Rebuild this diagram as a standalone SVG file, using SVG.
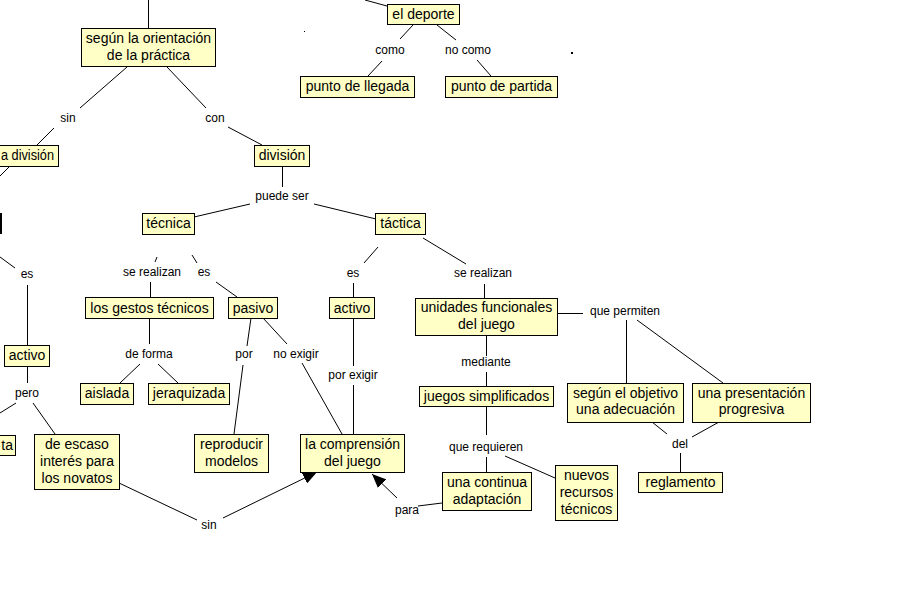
<svg xmlns="http://www.w3.org/2000/svg" width="919" height="613" viewBox="0 0 919 613">
<defs>
<style>
.b{fill:#ffffc6;stroke:#000;stroke-width:1}
.t{font-family:"Liberation Sans",Arial,sans-serif;font-size:14px;fill:#000;text-anchor:middle}
.l{font-family:"Liberation Sans",Arial,sans-serif;font-size:12px;fill:#000;text-anchor:middle}
.c line{stroke:#000;stroke-width:1;fill:none}
</style>
<marker id="ah" markerUnits="userSpaceOnUse" markerWidth="14" markerHeight="12" refX="14" refY="6" orient="auto">
<path d="M0,0 L14,6 L0,12 z" fill="#000"/>
</marker>
</defs>
<rect width="919" height="613" fill="#fff"/>
<g id="connectors" class="c">
<line x1="148.5" y1="0" x2="148.5" y2="28"/>
<line x1="365" y1="0" x2="387" y2="6"/>
<line x1="413" y1="25" x2="400" y2="39"/>
<line x1="382" y1="61" x2="368" y2="76"/>
<line x1="437" y1="25" x2="456" y2="40"/>
<line x1="477" y1="60" x2="491" y2="76"/>
<line x1="127" y1="67" x2="80" y2="108"/>
<line x1="54" y1="128" x2="37" y2="145"/>
<line x1="167" y1="67" x2="206" y2="108"/>
<line x1="228" y1="127" x2="262" y2="145"/>
<line x1="9" y1="167" x2="0" y2="176"/>
<line x1="0" y1="257" x2="15" y2="268"/>
<line x1="27.5" y1="285" x2="27.5" y2="345"/>
<line x1="27.5" y1="366" x2="27.5" y2="383"/>
<line x1="16" y1="403" x2="0" y2="413"/>
<line x1="33" y1="403" x2="55" y2="434"/>
<line x1="119" y1="483" x2="197" y2="520"/>
<line x1="223" y1="518" x2="317" y2="472" marker-end="url(#ah)"/>
<line x1="282.5" y1="166" x2="282.5" y2="187"/>
<line x1="250" y1="204" x2="194" y2="217"/>
<line x1="314" y1="204" x2="376" y2="219"/>
<line x1="157" y1="257" x2="155" y2="262"/>
<line x1="192" y1="255" x2="197" y2="263"/>
<line x1="150.5" y1="282" x2="150.5" y2="297"/>
<line x1="216" y1="282" x2="237" y2="297"/>
<line x1="149.5" y1="319" x2="149.5" y2="344"/>
<line x1="140" y1="364" x2="120" y2="383"/>
<line x1="158" y1="364" x2="178" y2="383"/>
<line x1="251" y1="318" x2="247" y2="346"/>
<line x1="243" y1="365" x2="234" y2="434"/>
<line x1="263" y1="318" x2="287" y2="344"/>
<line x1="302" y1="363" x2="342" y2="434"/>
<line x1="378" y1="247" x2="364" y2="263"/>
<line x1="353.5" y1="283" x2="353.5" y2="297"/>
<line x1="353.5" y1="318" x2="353.5" y2="366"/>
<line x1="353.5" y1="385" x2="353.5" y2="434"/>
<line x1="423" y1="238" x2="466" y2="264"/>
<line x1="484.5" y1="284" x2="484.5" y2="298"/>
<line x1="486.5" y1="335" x2="486.5" y2="356"/>
<line x1="486.5" y1="372" x2="486.5" y2="386"/>
<line x1="486.5" y1="406" x2="486.5" y2="435"/>
<line x1="486.5" y1="457" x2="486.5" y2="472"/>
<line x1="505" y1="456" x2="555" y2="478"/>
<line x1="418" y1="506" x2="442" y2="503"/>
<line x1="397" y1="498" x2="372" y2="474" marker-end="url(#ah)"/>
<line x1="557" y1="313.5" x2="583" y2="313.5"/>
<line x1="626.5" y1="320" x2="626.5" y2="383"/>
<line x1="637" y1="320" x2="723" y2="383"/>
<line x1="652" y1="422" x2="667" y2="434"/>
<line x1="719" y1="422" x2="692" y2="437"/>
<line x1="680.5" y1="453" x2="680.5" y2="472"/>
</g>
<rect x="0" y="213" width="2" height="21" fill="#000"/>
<rect x="304" y="31" width="1" height="1" fill="#000"/>
<rect x="571" y="52" width="2" height="2" fill="#000"/>
<g id="n-orientacion"><rect class="b" x="81.5" y="28.5" width="134" height="38"/><text class="t" x="148.5" y="43">según la orientación</text><text class="t" x="148.5" y="60">de la práctica</text></g>
<g id="n-deporte"><rect class="b" x="387.5" y="4.5" width="72" height="20"/><text class="t" x="423.5" y="19">el deporte</text></g>
<g id="n-llegada"><rect class="b" x="300.5" y="76.5" width="114" height="21"/><text class="t" x="357.5" y="91">punto de llegada</text></g>
<g id="n-partida"><rect class="b" x="445.5" y="76.5" width="112" height="21"/><text class="t" x="501.5" y="91">punto de partida</text></g>
<g id="n-la-division"><rect class="b" x="-20.5" y="145.5" width="79" height="21"/><text class="t" x="1" y="160" style="text-anchor:start" textLength="53" lengthAdjust="spacingAndGlyphs">a división</text></g>
<g id="n-division"><rect class="b" x="254.5" y="145.5" width="55" height="21"/><text class="t" x="282" y="160">división</text></g>
<g id="n-tecnica"><rect class="b" x="142.5" y="213.5" width="52" height="21"/><text class="t" x="168.5" y="228">técnica</text></g>
<g id="n-tactica"><rect class="b" x="375.5" y="213.5" width="50" height="21"/><text class="t" x="400.5" y="228">táctica</text></g>
<g id="n-gestos"><rect class="b" x="85.5" y="297.5" width="128" height="21"/><text class="t" x="149.5" y="313">los gestos técnicos</text></g>
<g id="n-pasivo"><rect class="b" x="228.5" y="297.5" width="49" height="21"/><text class="t" x="253" y="313">pasivo</text></g>
<g id="n-activo2"><rect class="b" x="329.5" y="297.5" width="45" height="21"/><text class="t" x="352" y="313">activo</text></g>
<g id="n-activo1"><rect class="b" x="4.5" y="345.5" width="45" height="21"/><text class="t" x="27" y="360">activo</text></g>
<g id="n-unidades"><rect class="b" x="415.5" y="298.5" width="142" height="37"/><text class="t" x="486.5" y="312">unidades funcionales</text><text class="t" x="486.5" y="329">del juego</text></g>
<g id="n-aislada"><rect class="b" x="80.5" y="383.5" width="53" height="21"/><text class="t" x="107" y="398">aislada</text></g>
<g id="n-jeraquizada"><rect class="b" x="148.5" y="383.5" width="81" height="21"/><text class="t" x="189" y="398">jeraquizada</text></g>
<g id="n-juegos"><rect class="b" x="419.5" y="386.5" width="134" height="20"/><text class="t" x="486.5" y="401">juegos simplificados</text></g>
<g id="n-objetivo"><rect class="b" x="567.5" y="383.5" width="116" height="39"/><text class="t" x="625.5" y="398">según el objetivo</text><text class="t" x="625.5" y="414">una adecuación</text></g>
<g id="n-presentacion"><rect class="b" x="692.5" y="383.5" width="118" height="39"/><text class="t" x="751.5" y="398">una presentación</text><text class="t" x="751.5" y="414">progresiva</text></g>
<g id="n-reproducir"><rect class="b" x="194.5" y="434.5" width="74" height="38"/><text class="t" x="231.5" y="449">reproducir</text><text class="t" x="231.5" y="466">modelos</text></g>
<g id="n-comprension"><rect class="b" x="300.5" y="434.5" width="104" height="38"/><text class="t" x="352.5" y="449">la comprensión</text><text class="t" x="352.5" y="466">del juego</text></g>
<g id="n-ta"><rect class="b" x="-10.5" y="435.5" width="26" height="20"/><text class="t" x="13" y="450" style="text-anchor:end">ta</text></g>
<g id="n-escaso"><rect class="b" x="34.5" y="434.5" width="85" height="55"/><text class="t" x="77" y="449">de escaso</text><text class="t" x="77" y="466">interés para</text><text class="t" x="77" y="483">los novatos</text></g>
<g id="n-continua"><rect class="b" x="442.5" y="472.5" width="89" height="38"/><text class="t" x="487" y="487">una continua</text><text class="t" x="487" y="504">adaptación</text></g>
<g id="n-nuevos"><rect class="b" x="555.5" y="465.5" width="62" height="55"/><text class="t" x="586.5" y="480">nuevos</text><text class="t" x="586.5" y="497">recursos</text><text class="t" x="586.5" y="514">técnicos</text></g>
<g id="n-reglamento"><rect class="b" x="638.5" y="472.5" width="84" height="20"/><text class="t" x="680.5" y="487">reglamento</text></g>
<g id="p-como"><text class="l" x="390" y="54">como</text></g>
<g id="p-nocomo"><text class="l" x="468" y="54">no como</text></g>
<g id="p-sin1"><text class="l" x="68" y="122">sin</text></g>
<g id="p-con"><text class="l" x="215" y="122">con</text></g>
<g id="p-puedeser"><text class="l" x="282" y="200">puede ser</text></g>
<g id="p-serealizan1"><text class="l" x="152" y="276">se realizan</text></g>
<g id="p-es2"><text class="l" x="204" y="276">es</text></g>
<g id="p-es1"><text class="l" x="27" y="278">es</text></g>
<g id="p-es3"><text class="l" x="353" y="277">es</text></g>
<g id="p-serealizan2"><text class="l" x="483" y="277">se realizan</text></g>
<g id="p-deforma"><text class="l" x="149" y="358">de forma</text></g>
<g id="p-por"><text class="l" x="244" y="358">por</text></g>
<g id="p-noexigir"><text class="l" x="296" y="358">no exigir</text></g>
<g id="p-pero"><text class="l" x="27" y="397">pero</text></g>
<g id="p-porexigir"><text class="l" x="353" y="379">por exigir</text></g>
<g id="p-mediante"><text class="l" x="486" y="366">mediante</text></g>
<g id="p-quepermiten"><text class="l" x="625" y="315">que permiten</text></g>
<g id="p-querequieren"><text class="l" x="486" y="451">que requieren</text></g>
<g id="p-del"><text class="l" x="680" y="448">del</text></g>
<g id="p-sin2"><text class="l" x="209" y="529">sin</text></g>
<g id="p-para"><text class="l" x="407" y="514">para</text></g>
</svg>
